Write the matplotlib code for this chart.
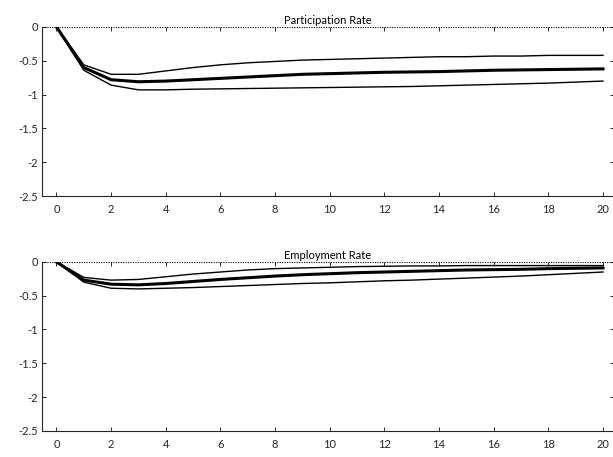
import numpy as np
import matplotlib
matplotlib.use("Agg")
import matplotlib.pyplot as plt

# impulse responses, horizons 0..20
horizon = list(range(21))

part_mid = [0, -0.60, -0.78, -0.81, -0.80, -0.78, -0.76, -0.74, -0.72, -0.70, -0.69,
            -0.68, -0.67, -0.665, -0.66, -0.65, -0.64, -0.635, -0.63, -0.625, -0.62]
part_hi = [0, -0.56, -0.70, -0.70, -0.65, -0.60, -0.56, -0.53, -0.51, -0.49, -0.48,
           -0.47, -0.46, -0.45, -0.44, -0.44, -0.43, -0.43, -0.42, -0.42, -0.42]
part_lo = [0, -0.64, -0.86, -0.93, -0.93, -0.92, -0.915, -0.91, -0.905, -0.90, -0.895,
           -0.89, -0.885, -0.88, -0.87, -0.86, -0.85, -0.84, -0.83, -0.815, -0.80]

emp_mid = [0, -0.27, -0.33, -0.34, -0.32, -0.29, -0.26, -0.235, -0.21, -0.19, -0.175,
           -0.16, -0.15, -0.14, -0.13, -0.12, -0.115, -0.11, -0.10, -0.095, -0.09]
emp_hi = [0, -0.23, -0.27, -0.26, -0.22, -0.18, -0.15, -0.12, -0.10, -0.09, -0.08,
          -0.07, -0.065, -0.06, -0.06, -0.055, -0.055, -0.055, -0.055, -0.055, -0.055]
emp_lo = [0, -0.30, -0.39, -0.40, -0.39, -0.38, -0.365, -0.35, -0.335, -0.32, -0.31,
          -0.295, -0.28, -0.27, -0.255, -0.24, -0.225, -0.21, -0.19, -0.17, -0.15]

titles = ["Participation Rate", "Employment Rate"]
yticks = [-2.5, -2, -1.5, -1, -0.5, 0]
ytick_labels = ["-2.5", "-2", "-1.5", "-1", "-0.5", "0"]
xticks = list(range(0, 21, 2))

plt.rcParams["font.family"] = ["Lato", "DejaVu Sans"]
axcol = "#262626"

fig = plt.figure(figsize=(6.13, 4.57), dpi=100)
ax1 = fig.add_axes([0.0685, 0.571, 0.933, 0.370])
ax2 = fig.add_axes([0.0685, 0.057, 0.933, 0.370])

for ax, t, mid, hi, lo in [(ax1, titles[0], part_mid, part_hi, part_lo),
                           (ax2, titles[1], emp_mid, emp_hi, emp_lo)]:
    ax.plot(horizon, hi, color="black", lw=1.0)
    ax.plot(horizon, lo, color="black", lw=1.0)
    ax.plot(horizon, mid, color="black", lw=2.2)
    ax.axhline(0, color="black", lw=0.8, ls=":", dashes=(1, 1.2))
    ax.set_xlim(-0.53, 20.4)
    ax.set_ylim(-2.5, 0)
    ax.set_xticks(xticks)
    ax.set_yticks(yticks)
    ax.set_yticklabels(ytick_labels)
    ax.tick_params(direction="in", length=3, width=0.7, colors=axcol,
                   labelsize=8, top=True, right=True)
    ax.tick_params(axis="x", pad=6)
    ax.tick_params(axis="y", pad=3)
    ax.spines["top"].set_visible(False)
    for s in ["left", "bottom", "right"]:
        ax.spines[s].set_color(axcol)
        ax.spines[s].set_linewidth(0.8)
    ax.set_title(t, fontsize=8, pad=2, color="black")

fig.savefig("out.png", dpi=100)
